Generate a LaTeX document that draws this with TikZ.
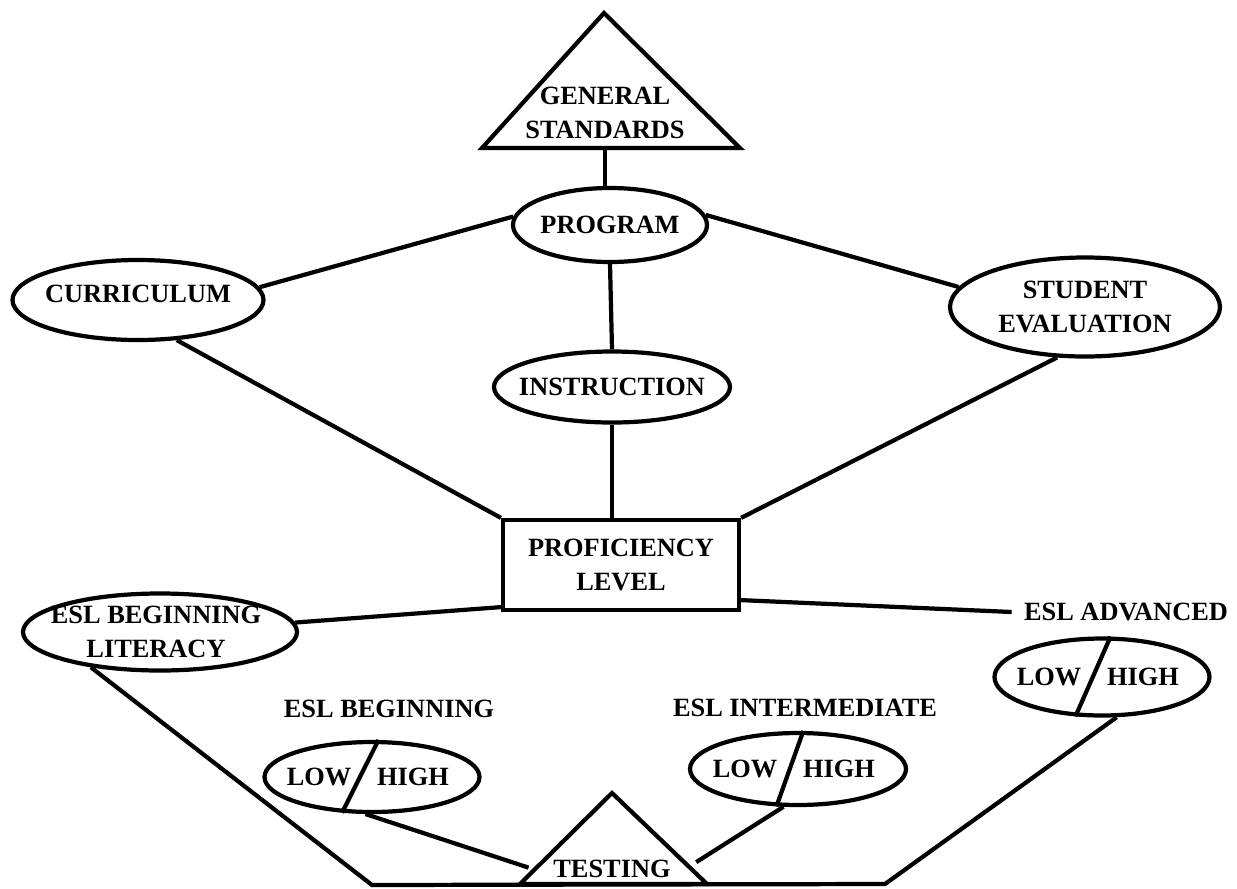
\documentclass[tikz,border=0pt]{standalone}
\usepackage{fontspec}
\setmainfont{Liberation Serif}
\usepackage{tikz}
\usetikzlibrary{shapes.geometric, calc}
\tikzstyle{conn} = [line width=1.2pt]
\tikzstyle{oval} = [ellipse, draw=black, line width=1.2pt, inner sep=0pt]
\tikzstyle{levelbox} = [rectangle, draw=black, line width=1.2pt, minimum width=23.6mm, minimum height=9mm, align=center]
\tikzstyle{lowhigh} = [oval, minimum width=21.6mm, minimum height=7.3mm, label={[xshift=-5.3mm]center:LOW}, label={[xshift=4.1mm]center:HIGH}]
\tikzset{every label/.style={align=center, inner sep=0pt}}

\begin{document}
\begin{tikzpicture}[x=0.1mm, y=-0.1mm, font=\fontsize{7.5}{9.6}\selectfont\bfseries]
\useasboundingbox (0,0) rectangle (1237,888);
% general standards
\coordinate (gsT) at (604,13);
\coordinate (gsL) at (482,148);
\coordinate (gsR) at (740,148);
\coordinate (gsB) at (605,148);
\draw [conn] (gsT) -- (gsL) -- (gsR) -- cycle;
\node (gs) [align=center] at (605,113) {GENERAL\\STANDARDS};
% upper ovals
\node (prog) [oval, minimum width=19.4mm, minimum height=7.4mm, label={center:PROGRAM}] at (610,225) {};
\node (curr) [oval, minimum width=25.1mm, minimum height=8mm, label={[yshift=0.6mm]center:CURRICULUM}] at (138,300) {};
\node (stud) [oval, minimum width=27mm, minimum height=9.9mm, label={center:STUDENT\\EVALUATION}] at (1085,307) {};
\node (instr) [oval, minimum width=23.6mm, minimum height=7.1mm, label={center:INSTRUCTION}] at (612,387) {};
\node (prof) [levelbox] at (621,565) {PROFICIENCY\\LEVEL};
% levels
\node (lit) [oval, minimum width=27.4mm, minimum height=7.7mm, label={[xshift=-0.4mm]center:ESL BEGINNING\\LITERACY}] at (160,632) {};
\node (beg) at (389,709) {ESL BEGINNING};
\node (inter) at (805,708) {ESL INTERMEDIATE};
\node (adv) at (1126,612) {ESL ADVANCED};
\node (begLH) [lowhigh, minimum width=21.5mm, minimum height=7mm] at (372,777) {};
\node (intLH) [lowhigh, minimum height=7.2mm] at (798,769) {};
\node (advLH) [lowhigh, minimum width=21.5mm, minimum height=7.7mm] at (1102,677) {};
% testing
\coordinate (tT) at (612,793);
\coordinate (tL) at (520,884);
\coordinate (tR) at (707,884);
\coordinate (bl) at (372,885);
\coordinate (br) at (885,884);
\draw [conn] (tT) -- (tL) -- (tR) -- cycle;
\node (test) at (612,869) {TESTING};

\draw [conn] (gsB) -- (gsB |- prog.north);
\draw [conn] (prog.south) -- (instr.north);
\draw [conn] (instr.south) -- (instr.south |- prof.north);
\draw [conn] (curr.6) -- (prog.175);
\draw [conn] (prog.6) -- (stud.171);
\draw [conn] (curr.-46) -- (prof.north west);
\draw [conn] (stud.-119) -- (prof.north east);
\draw [conn] ([yshift=0.5mm]prof.south west) -- (lit.4);
\draw [conn] ([yshift=1.2mm]prof.south east) -- (adv.west);
\draw [conn] (lit.207) -- (bl) -- (br) -- (advLH.-70);
\draw [conn] (begLH.260) -- ($(tT)!0.82!(tL)+(-8,0)$);
\draw [conn] (intLH.249) -- ($(tT)!0.76!(tR)+(12,0)$);
\draw [conn] (begLH.80) -- (begLH.230);
\draw [conn] (intLH.82) -- (intLH.240);
\draw [conn] (advLH.78) -- (advLH.236);
\end{tikzpicture}
\end{document}
